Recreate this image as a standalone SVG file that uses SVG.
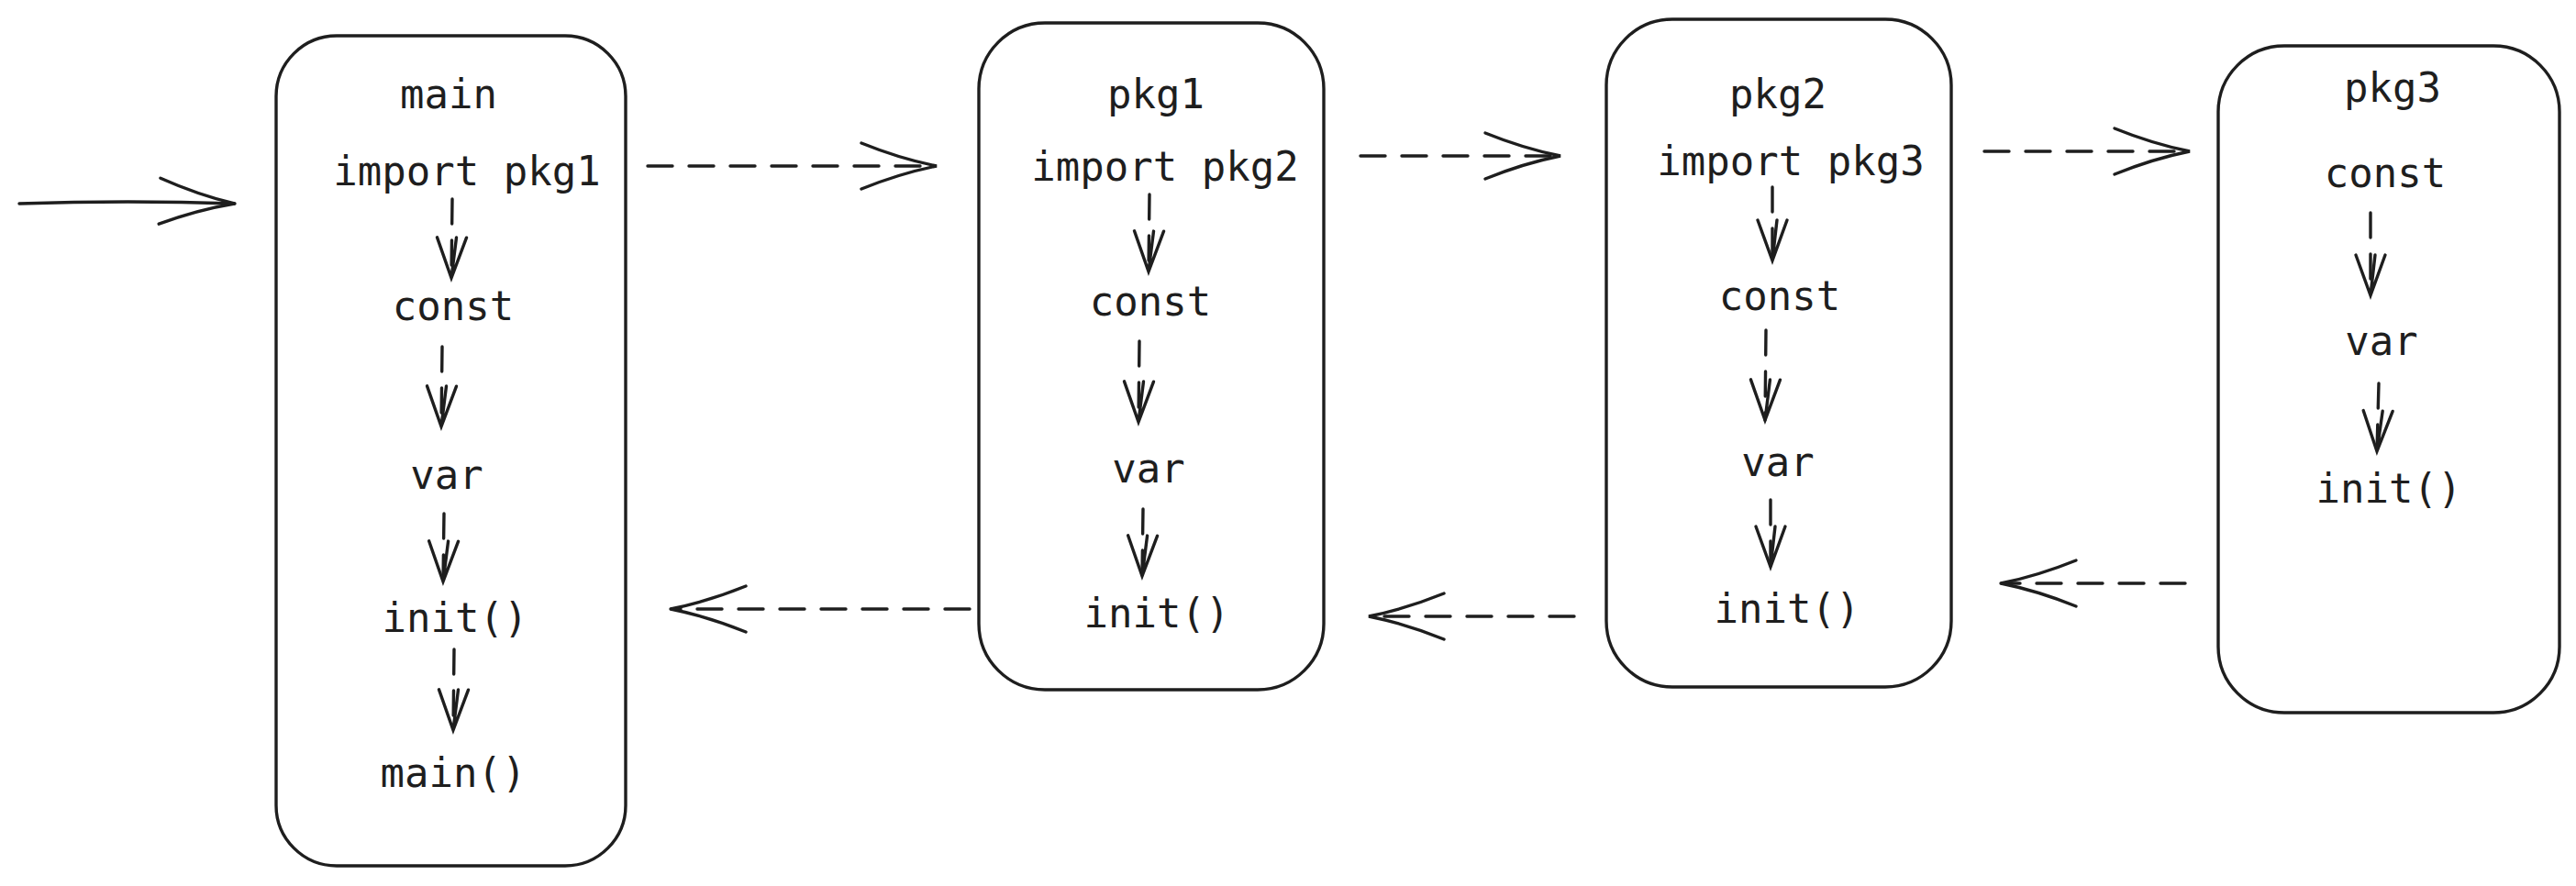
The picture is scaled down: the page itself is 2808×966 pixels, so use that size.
<svg xmlns="http://www.w3.org/2000/svg" width="2808" height="966" viewBox="0 0 2808 966">
<defs>
<style>
.box{fill:#ffffff;stroke:#1e1e1e;stroke-width:3.4}
.t{font-family:"DejaVu Sans Mono","Liberation Mono",monospace;font-size:44px;fill:#1e1e1e;text-anchor:middle;dominant-baseline:central}
.c{fill:none;stroke:#1e1e1e;stroke-width:3.4;stroke-linecap:round}
.d{stroke-dasharray:27 18}
.big{marker-end:url(#big)}
.sm{marker-end:url(#sm)}
</style>
<marker id="big" markerUnits="userSpaceOnUse" viewBox="-100 -40 110 80" markerWidth="110" markerHeight="80" refX="0" refY="0" orient="auto" overflow="visible">
<path d="M -82 -25 Q -40 -8 0 0 Q -40 8 -82 25" fill="none" stroke="#1e1e1e" stroke-width="3.4" stroke-linecap="round"/>
</marker>
<marker id="sm" markerUnits="userSpaceOnUse" viewBox="-60 -25 70 50" markerWidth="70" markerHeight="50" refX="0" refY="0" orient="auto" overflow="visible">
<path d="M -44 -16 L 0 0 L -44 16 M -44 -5 L 0 0" fill="none" stroke="#1e1e1e" stroke-width="3.4" stroke-linecap="round"/>
</marker>
</defs>
<rect width="2808" height="966" fill="#ffffff"/>

<g id="node-main">
<rect class="box" x="301" y="39" width="381" height="905" rx="66"/>
<text class="t" x="489" y="102">main</text>
<text class="t" x="509" y="186">import pkg1</text>
<text class="t" x="494" y="333">const</text>
<text class="t" x="487" y="517">var</text>
<text class="t" x="496" y="673">init()</text>
<text class="t" x="494" y="842">main()</text>
</g>

<g id="node-pkg1">
<rect class="box" x="1067" y="25" width="376" height="727" rx="72"/>
<text class="t" x="1260" y="102">pkg1</text>
<text class="t" x="1270" y="181">import pkg2</text>
<text class="t" x="1254" y="328">const</text>
<text class="t" x="1252" y="510">var</text>
<text class="t" x="1261" y="668">init()</text>
</g>

<g id="node-pkg2">
<rect class="box" x="1751" y="21" width="376" height="728" rx="72"/>
<text class="t" x="1938" y="102">pkg2</text>
<text class="t" x="1952" y="175">import pkg3</text>
<text class="t" x="1940" y="322">const</text>
<text class="t" x="1938" y="503">var</text>
<text class="t" x="1948" y="663">init()</text>
</g>

<g id="node-pkg3">
<rect class="box" x="2418" y="50" width="372" height="727" rx="72"/>
<text class="t" x="2608" y="95">pkg3</text>
<text class="t" x="2600" y="188">const</text>
<text class="t" x="2596" y="371">var</text>
<text class="t" x="2604" y="532">init()</text>
</g>

<g id="connectors">
<path class="c big" d="M 21 222 Q 140 218 256 222"/>
<path class="c d big" d="M 706 181 L 1021 181"/>
<path class="c d big" d="M 1483 170 L 1701 170"/>
<path class="c d big" d="M 2163 165 L 2387 165"/>
<path class="c d big" d="M 2382 636 L 2181 636"/>
<path class="c d big" d="M 1716 672 L 1492 672"/>
<path class="c d big" d="M 1057 664 L 731 664"/>

<path class="c d sm" d="M 493 217 L 492 303"/>
<path class="c d sm" d="M 482 378 L 481 465"/>
<path class="c d sm" d="M 484 560 L 483 634"/>
<path class="c d sm" d="M 495 708 L 494 796"/>

<path class="c d sm" d="M 1253 212 L 1252 296"/>
<path class="c d sm" d="M 1242 372 L 1241 460"/>
<path class="c d sm" d="M 1246 555 L 1245 628"/>

<path class="c d sm" d="M 1932 204 L 1932 284"/>
<path class="c d sm" d="M 1925 360 L 1924 458"/>
<path class="c d sm" d="M 1930 545 L 1930 618"/>

<path class="c d sm" d="M 2584 232 L 2584 322"/>
<path class="c d sm" d="M 2593 418 L 2591 492"/>
</g>
</svg>
